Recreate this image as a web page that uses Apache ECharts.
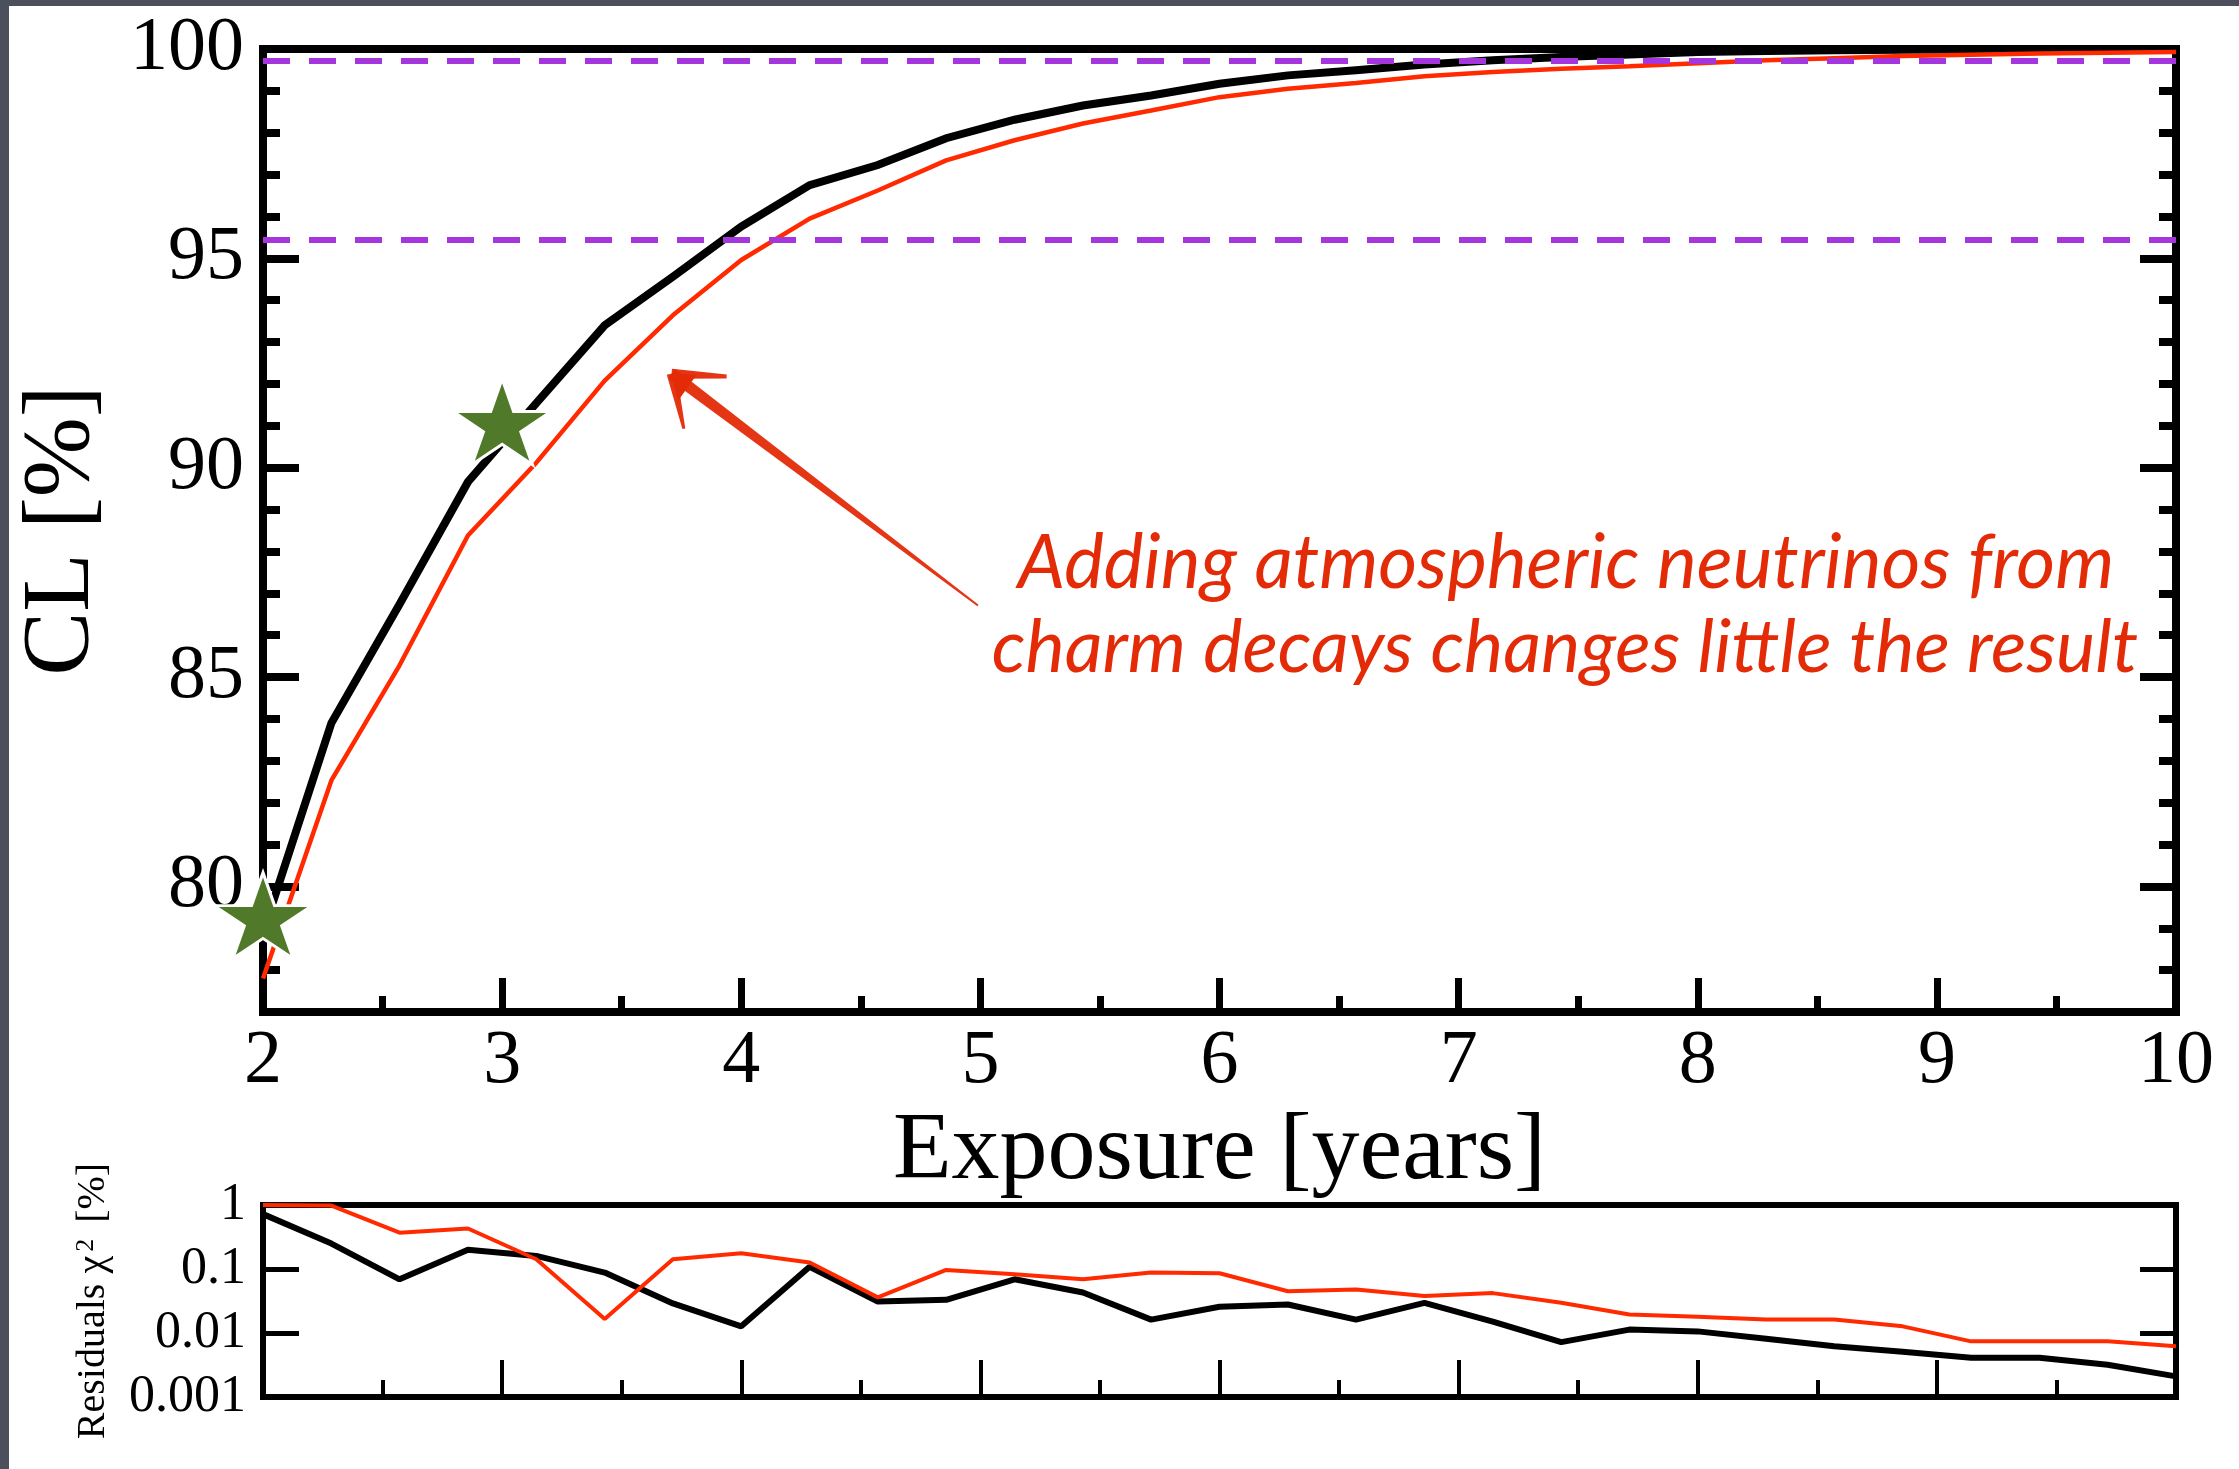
<!DOCTYPE html>
<html>
<head>
<meta charset="utf-8">
<script src="https://cdn.jsdelivr.net/npm/echarts@6/dist/echarts.min.js"></script>
<style>
  html, body { margin: 0; padding: 0; background: #ffffff; }
  #chart { width: 2239px; height: 1469px; }
</style>
</head>
<body>
<div id="chart"></div>
<script>
// Exposure steps (years)
const exposureYears = [2.000, 2.286, 2.571, 2.857, 3.143, 3.429, 3.714, 4.000, 4.286, 4.571,
  4.857, 5.143, 5.429, 5.714, 6.000, 6.286, 6.571, 6.857, 7.143, 7.429,
  7.714, 8.000, 8.286, 8.571, 8.857, 9.143, 9.429, 9.714, 10.000];

// Confidence level [%] without (black) and with (red) charm atmospheric neutrinos
const clBaseline = [78.9, 83.90, 86.74, 89.66, 91.54, 93.40, 94.56, 95.76, 96.75, 97.23,
  97.87, 98.31, 98.65, 98.89, 99.17, 99.37, 99.49, 99.63, 99.73, 99.81,
  99.87, 99.93, 99.95, 99.97, 99.98, 99.99, 99.99, 100.0, 100.0];
const clWithCharm = [77.8, 82.53, 85.28, 88.38, 90.12, 92.08, 93.64, 94.96, 95.95, 96.62,
  97.34, 97.82, 98.22, 98.53, 98.85, 99.05, 99.19, 99.35, 99.45, 99.53,
  99.59, 99.66, 99.73, 99.78, 99.83, 99.86, 99.89, 99.91, 99.93];

// Residuals chi^2 [%]
const residBaseline = [0.72, 0.25, 0.069, 0.20, 0.16, 0.088, 0.029, 0.0127, 0.108, 0.031,
  0.033, 0.069, 0.043, 0.0162, 0.0257, 0.0279, 0.0162, 0.0296, 0.0150, 0.0072,
  0.0113, 0.0106, 0.0081, 0.0062, 0.0051, 0.0041, 0.0041, 0.0032, 0.0021];
const residWithCharm = [1.0, 0.98, 0.37, 0.43, 0.142, 0.0166, 0.142, 0.176, 0.126, 0.036,
  0.0966, 0.083, 0.069, 0.088, 0.086, 0.045, 0.048, 0.038, 0.042, 0.0296,
  0.0195, 0.018, 0.0162, 0.0162, 0.0127, 0.0074, 0.0074, 0.0074, 0.0062];

// 2 sigma and 3 sigma levels
const sigmaLevels = [95.45, 99.73];
// highlighted exposures
const starPoints = [[2, 79.3], [3, 91.1]];
// tick values
const clMajorTicks = [80, 85, 90, 95, 100];
const residTickLabels = { '1': '1', '0.1': '0.1', '0.01': '0.01', '0.001': '0.001' };

const noteLines = ['Adding atmospheric neutrinos from', 'charm decays changes little the result'];
// arrow in data coordinates: tip, tail, two head strokes
const arrowTip = [3.709, 92.245];
const arrowTail = [4.990, 86.71];
const arrowHeadA = [3.939, 92.18];
const arrowHeadB = [3.760, 90.93];

const SERIF = 'Liberation Serif';
const RED = '#ff2a00';
const NOTE_RED = '#e32b08';
const PURPLE = '#a535dc';
const STAR = 'path://M100,0 L122.45,69.1 L195.1,69.1 L136.33,111.8 L158.8,180.9 L100,138.2 L41.2,180.9 L63.67,111.8 L4.9,69.1 L77.55,69.1 Z';

const zip = (xs, ys) => xs.map((x, i) => [x, ys[i]]);

const chart = echarts.init(document.getElementById('chart'), null, { renderer: 'canvas' });

const mainYBase = {
  type: 'value', gridIndex: 0, min: 77, max: 100,
  splitLine: { show: false }, axisLine: { show: false }
};
const residYBase = {
  type: 'log', logBase: 10, gridIndex: 1, min: 0.001, max: 1,
  splitLine: { show: false }, axisLine: { show: false },
  minorTick: { show: false }
};

const option = {
  backgroundColor: '#ffffff',
  animation: false,
  grid: [
    { left: 263, right: 63, top: 49, height: 963, show: true, backgroundColor: '#ffffff',
      borderColor: '#000', borderWidth: 8, containLabel: false },
    { left: 263, right: 63, top: 1205, height: 192, show: true, backgroundColor: '#ffffff',
      borderColor: '#000', borderWidth: 6, containLabel: false }
  ],
  xAxis: [
    {
      type: 'value', gridIndex: 0, min: 2, max: 10, interval: 1,
      axisLine: { show: false }, splitLine: { show: false },
      axisTick: { show: true, inside: true, length: 34, lineStyle: { color: '#000', width: 7 } },
      minorTick: { show: true, splitNumber: 2, length: 16, lineStyle: { color: '#000', width: 7 } },
      axisLabel: { margin: 12, color: '#000', fontFamily: SERIF, fontSize: 76 },
      name: 'Exposure [years]', nameLocation: 'middle', nameGap: 79,
      nameTextStyle: { color: '#000', fontFamily: SERIF, fontSize: 96 }
    },
    {
      type: 'value', gridIndex: 1, min: 2, max: 10, interval: 1,
      axisLine: { show: false }, splitLine: { show: false },
      axisTick: { show: true, inside: true, length: 37, lineStyle: { color: '#000', width: 4 } },
      minorTick: { show: true, splitNumber: 2, length: 17, lineStyle: { color: '#000', width: 4 } },
      axisLabel: { show: false }
    }
  ],
  yAxis: [
    Object.assign({}, mainYBase, {
      position: 'left', interval: 1,
      axisTick: { show: true, inside: true, length: 17, lineStyle: { color: '#000', width: 8 } },
      axisLabel: {
        margin: 19, color: '#000', fontFamily: SERIF, fontSize: 76,
        formatter: v => (clMajorTicks.indexOf(v) >= 0 ? String(v) : '')
      },
      name: 'CL [%]', nameLocation: 'middle', nameGap: 152, nameRotate: 90,
      nameTextStyle: { color: '#000', fontFamily: SERIF, fontSize: 96 }
    }),
    Object.assign({}, mainYBase, {
      position: 'left',
      axisTick: { show: true, inside: true, length: 36, customValues: clMajorTicks,
        lineStyle: { color: '#000', width: 8 } },
      axisLabel: { show: false }
    }),
    Object.assign({}, mainYBase, {
      position: 'right', interval: 1,
      axisTick: { show: true, inside: true, length: 17, lineStyle: { color: '#000', width: 8 } },
      axisLabel: { show: false }
    }),
    Object.assign({}, mainYBase, {
      position: 'right',
      axisTick: { show: true, inside: true, length: 36, customValues: clMajorTicks,
        lineStyle: { color: '#000', width: 8 } },
      axisLabel: { show: false }
    }),
    Object.assign({}, residYBase, {
      position: 'left',
      axisTick: { show: true, inside: true, length: 36, lineStyle: { color: '#000', width: 5 } },
      axisLabel: {
        margin: 17, color: '#000', fontFamily: SERIF, fontSize: 52,
        formatter: v => residTickLabels[String(Number(Number(v).toPrecision(1)))] || ''
      },
      name: '{a|Residuals χ}{b|2}{a| [%]}', nameLocation: 'middle', nameGap: 150, nameRotate: 90,
      nameTextStyle: {
        color: '#000', fontFamily: SERIF, fontSize: 40,
        rich: {
          a: { fontFamily: SERIF, fontSize: 40, color: '#000' },
          b: { fontFamily: SERIF, fontSize: 26, color: '#000', verticalAlign: 'top', padding: [0, 6, 0, 4] }
        }
      }
    }),
    Object.assign({}, residYBase, {
      position: 'right',
      axisTick: { show: true, inside: true, length: 36, lineStyle: { color: '#000', width: 5 } },
      axisLabel: { show: false }
    })
  ],
  series: [
    {
      name: 'sigma levels', type: 'line', xAxisIndex: 0, yAxisIndex: 0, data: [], z: 1,
      markLine: {
        silent: true, symbol: ['none', 'none'], label: { show: false },
        lineStyle: { color: PURPLE, width: 6, type: [27, 19], opacity: 1 },
        emphasis: { disabled: true },
        data: sigmaLevels.map(v => ({ yAxis: v }))
      }
    },
    {
      name: 'baseline', type: 'line', xAxisIndex: 0, yAxisIndex: 0, z: 3,
      data: zip(exposureYears, clBaseline), showSymbol: false,
      lineStyle: { color: '#000', width: 8, join: 'miter' }
    },
    {
      name: 'with charm', type: 'line', xAxisIndex: 0, yAxisIndex: 0, z: 4,
      data: zip(exposureYears, clWithCharm), showSymbol: false,
      lineStyle: { color: RED, width: 4.5 }
    },
    {
      name: 'stars', type: 'scatter', xAxisIndex: 0, yAxisIndex: 0, z: 6, clip: false,
      data: starPoints, symbol: STAR, symbolSize: [98, 86],
      itemStyle: { color: '#507a29', borderColor: '#ffffff', borderWidth: 3, opacity: 1 }
    },
    {
      name: 'resid baseline', type: 'line', xAxisIndex: 1, yAxisIndex: 4, z: 3,
      data: zip(exposureYears, residBaseline), showSymbol: false,
      lineStyle: { color: '#000', width: 6 }
    },
    {
      name: 'resid with charm', type: 'line', xAxisIndex: 1, yAxisIndex: 4, z: 4,
      data: zip(exposureYears, residWithCharm), showSymbol: false,
      lineStyle: { color: RED, width: 4 }
    }
  ]
};

chart.setOption(option);

// hand-drawn style arrow and note, anchored in data space
function px(p) { return chart.convertToPixel({ gridIndex: 0 }, p); }
function taper(a, b, wa, wb) {
  const dx = b[0] - a[0], dy = b[1] - a[1];
  const len = Math.hypot(dx, dy) || 1;
  const nx = -dy / len, ny = dx / len;
  return [
    [a[0] + nx * wa / 2, a[1] + ny * wa / 2],
    [b[0] + nx * wb / 2, b[1] + ny * wb / 2],
    [b[0] - nx * wb / 2, b[1] - ny * wb / 2],
    [a[0] - nx * wa / 2, a[1] - ny * wa / 2]
  ];
}
const tip = px(arrowTip), tail = px(arrowTail), hA = px(arrowHeadA), hB = px(arrowHeadB);
const lerp = (a, b, t) => [a[0] + (b[0] - a[0]) * t, a[1] + (b[1] - a[1]) * t];

chart.setOption({
  graphic: [
    { type: 'rect', left: 0, top: 0, shape: { width: 2239, height: 6 }, style: { fill: '#4c505c' }, z: 100 },
    { type: 'rect', left: 0, top: 0, shape: { width: 9, height: 1469 }, style: { fill: '#4c505c' }, z: 100 },
    { type: 'polygon', shape: { points: taper(tip, tail, 12, 2) }, style: { fill: NOTE_RED, opacity: 0.95 }, z: 50 },
    { type: 'polygon', shape: { points: taper(tip, hA, 10, 4) }, style: { fill: NOTE_RED, opacity: 0.95 }, z: 50 },
    { type: 'polygon', shape: { points: taper(tip, hB, 10, 3) }, style: { fill: NOTE_RED, opacity: 0.95 }, z: 50 },
    { type: 'polygon', shape: { points: [tip, lerp(tip, hA, 0.45), lerp(tip, hB, 0.5)] }, style: { fill: NOTE_RED }, z: 50 },
    {
      type: 'text', x: 1566, y: 564, z: 50,
      style: { text: noteLines[0], fill: NOTE_RED, font: 'italic 75px Lato', align: 'center', verticalAlign: 'middle' }
    },
    {
      type: 'text', x: 1565, y: 648, z: 50,
      style: { text: noteLines[1], fill: NOTE_RED, font: 'italic 74px Lato', align: 'center', verticalAlign: 'middle' }
    }
  ]
});
</script>
</body>
</html>
